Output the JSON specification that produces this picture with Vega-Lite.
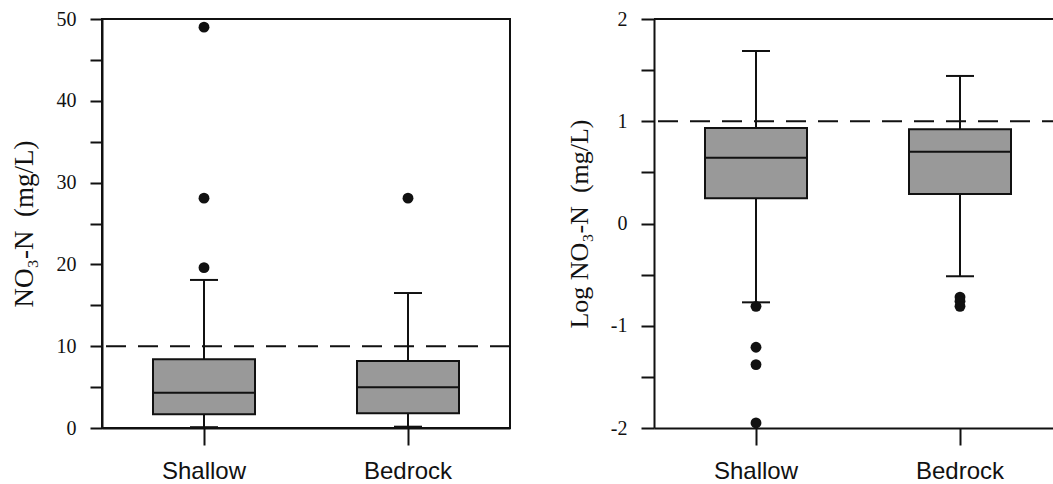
{
  "$schema": "https://vega.github.io/schema/vega-lite/v6.json",
  "padding": {"left": 9, "top": 8, "right": 0, "bottom": 0},
  "background": "white",
  "spacing": 54,
  "datasets": {
    "linear_box": [
      {"site": "Shallow", "lower": 0.1, "q1": 1.67, "median": 4.3, "q3": 8.4, "upper": 18.1},
      {"site": "Bedrock", "lower": 0.16, "q1": 1.8, "median": 4.97, "q3": 8.2, "upper": 16.5}
    ],
    "linear_out": [
      {"site": "Shallow", "value": 49.0},
      {"site": "Shallow", "value": 28.1},
      {"site": "Shallow", "value": 19.6},
      {"site": "Bedrock", "value": 28.1}
    ],
    "log_box": [
      {"site": "Shallow", "lower": -0.771, "q1": 0.246, "median": 0.644, "q3": 0.934, "upper": 1.687},
      {"site": "Bedrock", "lower": -0.516, "q1": 0.288, "median": 0.702, "q3": 0.921, "upper": 1.443}
    ],
    "log_out": [
      {"site": "Shallow", "value": -0.81},
      {"site": "Shallow", "value": -1.21},
      {"site": "Shallow", "value": -1.38},
      {"site": "Shallow", "value": -1.95},
      {"site": "Bedrock", "value": -0.72},
      {"site": "Bedrock", "value": -0.76},
      {"site": "Bedrock", "value": -0.81}
    ]
  },
  "hconcat": [
    {
      "width": 408,
      "height": 409,
      "view": {"stroke": "#111", "strokeWidth": 2},
      "layer": [
        {
          "data": {"name": "linear_box"},
          "mark": {"type": "rule", "color": "#111", "strokeWidth": 2},
          "encoding": {
            "x": {"field": "site", "type": "nominal", "sort": ["Shallow", "Bedrock"], "scale": {"paddingInner": 0, "paddingOuter": 0},
              "axis": {"title": null, "labelAngle": 0, "labelFont": "Liberation Sans", "labelFontSize": 24, "tickSize": 17, "labelPadding": 14}},
            "y": {"field": "lower", "type": "quantitative", "scale": {"domain": [0, 50], "nice": false},
              "axis": {"title": "NO₃-N\u00a0 (mg/L)", "titleFont": "Liberation Serif", "titleFontSize": 27, "titleFontWeight": "normal", "titlePadding": 18,
                "values": [0, 5, 10, 15, 20, 25, 30, 35, 40, 45, 50],
                "labelExpr": "datum.value % 10 == 0 ? datum.label : ''",
                "labelFont": "Liberation Serif", "labelFontSize": 20, "tickSize": 12, "labelPadding": 14}},
            "y2": {"field": "upper"}
          }
        },
        {
          "data": {"name": "linear_box"},
          "mark": {"type": "bar", "size": 102, "fill": "#999999", "stroke": "#111", "strokeWidth": 2},
          "encoding": {
            "x": {"field": "site", "type": "nominal", "sort": ["Shallow", "Bedrock"]},
            "y": {"field": "q1", "type": "quantitative"},
            "y2": {"field": "q3"}
          }
        },
        {
          "data": {"name": "linear_box"},
          "mark": {"type": "tick", "size": 102, "thickness": 2, "color": "#111", "opacity": 1},
          "encoding": {
            "x": {"field": "site", "type": "nominal", "sort": ["Shallow", "Bedrock"]},
            "y": {"field": "median", "type": "quantitative"}
          }
        },
        {
          "data": {"name": "linear_box"},
          "mark": {"type": "tick", "size": 28, "thickness": 2, "color": "#111", "opacity": 1},
          "encoding": {
            "x": {"field": "site", "type": "nominal", "sort": ["Shallow", "Bedrock"]},
            "y": {"field": "upper", "type": "quantitative"}
          }
        },
        {
          "data": {"name": "linear_box"},
          "mark": {"type": "tick", "size": 28, "thickness": 2, "color": "#111", "opacity": 1},
          "encoding": {
            "x": {"field": "site", "type": "nominal", "sort": ["Shallow", "Bedrock"]},
            "y": {"field": "lower", "type": "quantitative"}
          }
        },
        {
          "data": {"name": "linear_out"},
          "mark": {"type": "circle", "size": 118, "color": "#111", "opacity": 1},
          "encoding": {
            "x": {"field": "site", "type": "nominal", "sort": ["Shallow", "Bedrock"]},
            "y": {"field": "value", "type": "quantitative"}
          }
        },
        {
          "data": {"values": [{}]},
          "mark": {"type": "rule", "color": "#111", "strokeWidth": 2, "strokeDash": [20, 12]},
          "encoding": {"y": {"datum": 10}}
        }
      ]
    },
    {
      "width": 408,
      "height": 409,
      "view": {"stroke": null},
      "layer": [
        {
          "data": {"name": "log_box"},
          "mark": {"type": "rule", "color": "#111", "strokeWidth": 2},
          "encoding": {
            "x": {"field": "site", "type": "nominal", "sort": ["Shallow", "Bedrock"], "scale": {"paddingInner": 0, "paddingOuter": 0},
              "axis": {"title": null, "labelAngle": 0, "labelFont": "Liberation Sans", "labelFontSize": 24, "tickSize": 17, "labelPadding": 14}},
            "y": {"field": "lower", "type": "quantitative", "scale": {"domain": [-2, 2], "nice": false},
              "axis": {"title": "Log NO₃-N\u00a0 (mg/L)", "titleFont": "Liberation Serif", "titleFontSize": 26, "titleFontWeight": "normal", "titlePadding": 18,
                "values": [-2, -1.5, -1, -0.5, 0, 0.5, 1, 1.5, 2],
                "labelExpr": "datum.value % 1 == 0 ? '' + datum.value : ''",
                "labelFont": "Liberation Serif", "labelFontSize": 20, "tickSize": 13, "labelPadding": 14}},
            "y2": {"field": "upper"}
          }
        },
        {
          "data": {"name": "log_box"},
          "mark": {"type": "bar", "size": 102, "fill": "#999999", "stroke": "#111", "strokeWidth": 2},
          "encoding": {
            "x": {"field": "site", "type": "nominal", "sort": ["Shallow", "Bedrock"]},
            "y": {"field": "q1", "type": "quantitative"},
            "y2": {"field": "q3"}
          }
        },
        {
          "data": {"name": "log_box"},
          "mark": {"type": "tick", "size": 102, "thickness": 2, "color": "#111", "opacity": 1},
          "encoding": {
            "x": {"field": "site", "type": "nominal", "sort": ["Shallow", "Bedrock"]},
            "y": {"field": "median", "type": "quantitative"}
          }
        },
        {
          "data": {"name": "log_box"},
          "mark": {"type": "tick", "size": 28, "thickness": 2, "color": "#111", "opacity": 1},
          "encoding": {
            "x": {"field": "site", "type": "nominal", "sort": ["Shallow", "Bedrock"]},
            "y": {"field": "upper", "type": "quantitative"}
          }
        },
        {
          "data": {"name": "log_box"},
          "mark": {"type": "tick", "size": 28, "thickness": 2, "color": "#111", "opacity": 1},
          "encoding": {
            "x": {"field": "site", "type": "nominal", "sort": ["Shallow", "Bedrock"]},
            "y": {"field": "lower", "type": "quantitative"}
          }
        },
        {
          "data": {"name": "log_out"},
          "mark": {"type": "circle", "size": 118, "color": "#111", "opacity": 1},
          "encoding": {
            "x": {"field": "site", "type": "nominal", "sort": ["Shallow", "Bedrock"]},
            "y": {"field": "value", "type": "quantitative"}
          }
        },
        {
          "data": {"values": [{}]},
          "mark": {"type": "rule", "color": "#111", "strokeWidth": 2, "strokeDash": [20, 12]},
          "encoding": {"y": {"datum": 1}}
        },
        {
          "data": {"values": [{}]},
          "mark": {"type": "rule", "color": "#111", "strokeWidth": 2},
          "encoding": {"y": {"datum": 2}}
        }
      ]
    }
  ],
  "config": {
    "axis": {"grid": false, "domainColor": "#111", "domainWidth": 2, "tickColor": "#111", "tickWidth": 2, "labelColor": "#111", "titleColor": "#111"}
  }
}
